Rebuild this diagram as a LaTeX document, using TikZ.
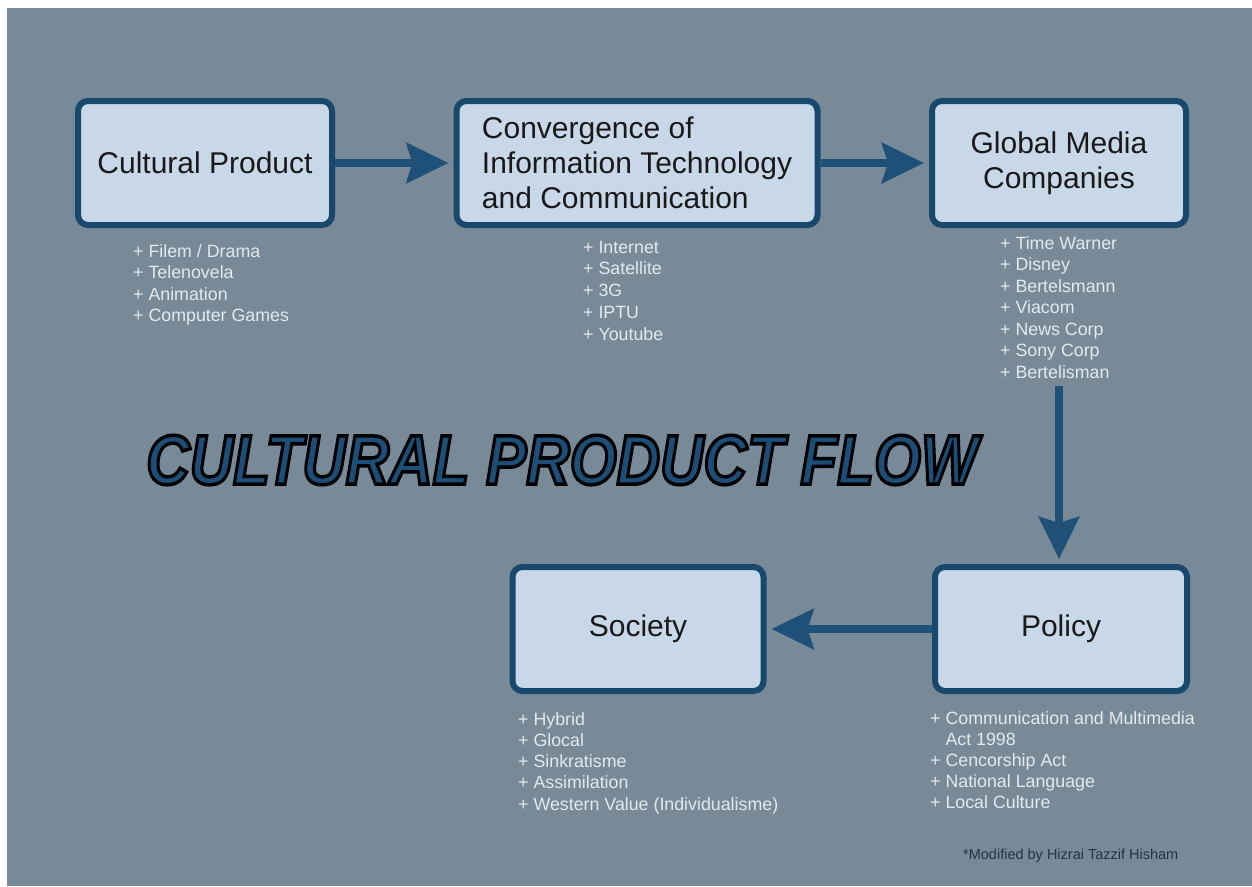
\documentclass[tikz,border=0pt]{standalone}
\usepackage{fontspec}
\setmainfont{Liberation Sans}
\usetikzlibrary{arrows.meta}
\definecolor{bg}{RGB}{120,138,152}
\definecolor{boxfill}{RGB}{200,216,232}
\definecolor{boxline}{RGB}{24,72,108}
\definecolor{arrowc}{RGB}{30,80,120}
\definecolor{listc}{RGB}{226,233,239}
\definecolor{titlec}{RGB}{28,78,120}
\definecolor{creditc}{RGB}{38,52,66}
\newcommand\fstrut{\rule{0pt}{13pt}}
\newcommand\outlinetext[1]{\special{pdf:literal direct 2 Tr 3.5 w 0 0 0 RG}#1\special{pdf:literal direct 0 Tr}}
\begin{document}
\begin{tikzpicture}[x=1pt,y=-1pt,
  box/.style={draw=boxline, line width=6pt, fill=boxfill, rounded corners=10pt,
    minimum height=124pt, inner sep=0pt, text=black!90,
    font=\fontsize{30}{35}\selectfont},
  lst/.style={anchor=north west, inner sep=0pt, align=left, text=listc,
    font=\fontsize{17.8}{21.5}\selectfont},
  arr/.style={draw=arrowc, line width=8pt, -{Stealth[length=42pt,width=40pt,inset=6pt]}, shorten >=5pt}
]
\useasboundingbox (0,0) rectangle (1252,886);
\fill[white] (0,0) rectangle (1252,886);
\fill[bg] (7,8) rectangle (1252,886);

\node[box, minimum width=254pt, align=center] (cp) at (205,163) {Cultural Product};
\node[box, minimum width=361pt, align=left] (conv) at (637,163) {Convergence of\\Information Technology\\and Communication};
\node[box, minimum width=254pt, align=center] (gm) at (1059,163) {Global Media\\Companies};
\node[box, minimum width=252pt, align=center] (policy) at (1061,629) {Policy};
\node[box, minimum width=251pt, align=center] (society) at (638,629) {Society};

\node[lst] (cpl) at (133,244) {\fstrut+ Filem / Drama\\+ Telenovela\\+ Animation\\+ Computer Games};
\node[lst, font=\fontsize{17.8}{21.75}\selectfont] (convl) at (583,240) {\fstrut+ Internet\\+ Satellite\\+ 3G\\+ IPTU\\+ Youtube};
\node[lst] (gml) at (1000,236) {\fstrut+ Time Warner\\+ Disney\\+ Bertelsmann\\+ Viacom\\+ News Corp\\+ Sony Corp\\+ Bertelisman};
\node[lst, font=\fontsize{17.8}{21.25}\selectfont] (socl) at (518,712) {\fstrut+ Hybrid\\+ Glocal\\+ Sinkratisme\\+ Assimilation\\+ Western Value (Individualisme)};
\node[lst, font=\fontsize{17.8}{21}\selectfont] (pol) at (930,711) {\fstrut+ Communication and Multimedia\\\phantom{+ }Act 1998\\+ Cencorship Act\\+ National Language\\+ Local Culture};

\node[font=\fontsize{70}{70}\selectfont\bfseries\itshape, text=titlec, inner sep=0pt] (title) at (562,460) {\scalebox{0.86}[1]{\outlinetext{CULTURAL PRODUCT FLOW}}};

\node[anchor=west, inner sep=0pt, text=creditc, font=\fontsize{14.5}{16}\selectfont] (credit) at (963,856) {*Modified by Hizrai Tazzif Hisham};

\coordinate (gmout) at (1059,386);
\draw[arr] (cp) -- (conv);
\draw[arr] (conv) -- (gm);
\draw[arr] (gmout) -- (gmout |- policy.north);
\draw[arr] (policy) -- (society);
\end{tikzpicture}
\end{document}
